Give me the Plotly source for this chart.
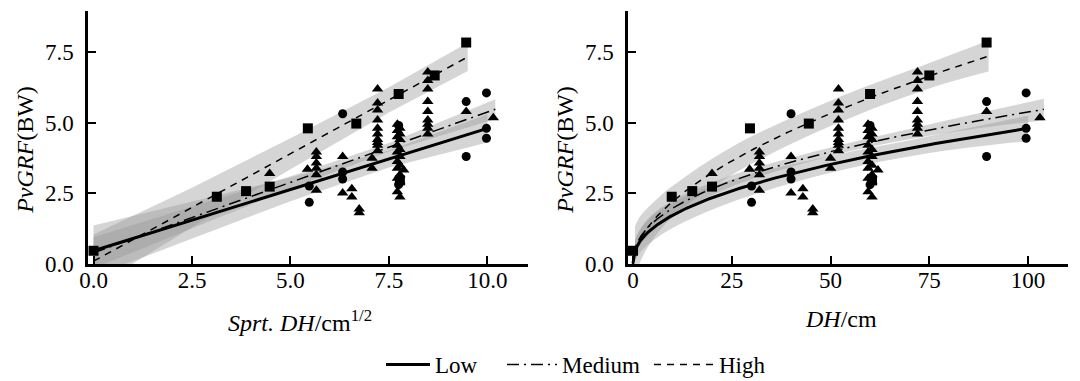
import numpy as np
import plotly.graph_objects as go

# ---------------- data (DH in cm, PvGRF in BW) ----------------
high_dh = [0, 9.8, 15, 20, 29.6, 44.5, 60, 75, 89.5, 60.5]
high_y = [0.45, 2.37, 2.57, 2.73, 4.80, 4.97, 6.02, 6.68, 7.85, 2.95]

low_dh = [30, 30, 40, 40, 40, 60, 60, 89.5, 89.5, 99.5, 99.5, 99.5]
low_y = [2.17, 2.75, 5.32, 3.25, 3.00, 4.90, 2.80, 5.75, 3.80, 6.06, 4.80, 4.45]

med_dh = [20, 29.5,
          32, 32, 32, 32, 32, 32,
          40, 40, 43, 43, 45.5, 45.5, 50, 50,
          52, 52, 52, 52, 52, 52, 52, 52, 52, 52,
          59.5, 60.5, 59.5, 60.5, 59.5, 60.5, 59.5, 60.5, 59.5,
          60.5, 59.5, 60.5, 59.5, 60.5, 59.5, 60.5, 59.5, 60.5,
          62,
          72, 72, 72, 72, 72, 72, 72, 72, 72,
          89.5, 103]
med_y = [3.20, 3.35,
         3.96, 3.80, 3.57, 3.38, 3.15, 2.60,
         3.80, 2.50, 2.65, 2.36, 1.93, 1.80, 3.74, 3.38,
         6.20, 5.70, 5.45, 5.10, 4.80, 4.60, 4.40, 4.30, 4.20, 4.00,
         4.95, 4.80, 4.72, 4.60, 4.50, 4.40, 4.20, 4.05, 3.96,
         3.80, 3.62, 3.49, 3.38, 3.15, 3.03, 2.90, 2.55, 2.36,
         3.32,
         6.80, 6.50, 6.20, 5.75, 5.40, 5.10, 4.95, 4.80, 4.60,
         5.40, 5.18]

groups = ["Low", "Medium", "High"]

# fitted models
# left panel: y = a + b * sqrt(DH)
lin_a = [0.45, 0.38, 0.08]
lin_b = [0.435, 0.50, 0.764]
lin_xmax = [10.0, 10.2, 9.5]
# right panel: y = c * DH ** p
pow_c = [0.61, 0.714, 0.62]
pow_p = [0.448, 0.4386, 0.55]
pow_xmax = [100, 104, 90]

# confidence bands (left panel, x = sqrt(DH))
bandL_x = [[0, 2.5, 5, 7.5, 10.0], [0, 2.5, 5, 7.5, 10.2], [0, 2.5, 5, 7.5, 9.5]]
bandL_lo = [[-0.45, 0.89, 2.21, 3.41, 4.30],
            [-0.17, 1.25, 2.66, 3.98, 5.13],
            [-0.87, 1.29, 3.35, 5.36, 6.84]]
bandL_hi = [[1.35, 2.19, 3.05, 4.01, 5.30],
            [0.93, 2.01, 3.10, 4.28, 5.83],
            [1.03, 2.69, 4.45, 6.26, 7.84]]
# confidence bands (right panel, x = DH)
bandR_x = [[0.5, 2, 5, 10, 25, 50, 75, 100],
           [0.5, 2, 5, 10, 25, 50, 75, 104],
           [0.5, 2, 5, 10, 25, 50, 75, 90]]
bandR_lo = [[0.10, 0.43, 0.80, 1.26, 2.18, 3.22, 3.92, 4.35],
            [0.23, 0.67, 1.15, 1.68, 2.73, 3.82, 4.54, 5.09],
            [-0.48, 0.11, 0.85, 1.65, 3.14, 4.88, 6.22, 6.82]]
bandR_hi = [[0.80, 1.23, 1.70, 2.16, 2.98, 3.82, 4.52, 5.25],
            [0.83, 1.27, 1.75, 2.24, 3.13, 4.12, 4.94, 5.85],
            [1.32, 1.71, 2.15, 2.75, 4.14, 5.78, 7.12, 7.92]]

# ---------------- styles ----------------
FONT = "Liberation Serif"
band_fill = "rgba(150,150,150,0.40)"
line_style = {
    "Low": dict(color="black", width=3, dash="solid"),
    "Medium": dict(color="black", width=1.5, dash="12px,5px,2px,5px"),
    "High": dict(color="black", width=1.5, dash="7px,6px"),
}
markers = {
    "Low": dict(symbol="circle", size=9),
    "Medium": dict(symbol="triangle-up", size=10),
    "High": dict(symbol="square", size=10),
}
legend_ids = {"Low": "legend", "Medium": "legend2", "High": "legend3"}

fig = go.Figure()

# bands
for panel in ("L", "R"):
    xa, ya = ("x", "y") if panel == "L" else ("x2", "y2")
    for i in (2, 1, 0):
        bx = bandL_x[i] if panel == "L" else bandR_x[i]
        lo = bandL_lo[i] if panel == "L" else bandR_lo[i]
        hi = bandL_hi[i] if panel == "L" else bandR_hi[i]
        shape = "linear" if panel == "L" else "spline"
        fig.add_trace(go.Scatter(x=bx, y=lo, mode="lines", line=dict(width=0, shape=shape),
                                 showlegend=False, hoverinfo="skip", xaxis=xa, yaxis=ya))
        fig.add_trace(go.Scatter(x=bx, y=hi, mode="lines", line=dict(width=0, shape=shape),
                                 fill="tonexty", fillcolor=band_fill,
                                 showlegend=False, hoverinfo="skip", xaxis=xa, yaxis=ya))

# fit lines
for i, g in enumerate(groups):
    xl = np.linspace(0, lin_xmax[i], 60)
    fig.add_trace(go.Scatter(x=xl, y=lin_a[i] + lin_b[i] * xl, mode="lines",
                             line=line_style[g], name=g, legendgroup=g,
                             legend=legend_ids[g],
                             showlegend=True, xaxis="x", yaxis="y"))
    xr = np.linspace(0, pow_xmax[i], 400)
    fig.add_trace(go.Scatter(x=xr, y=pow_c[i] * xr ** pow_p[i], mode="lines",
                             line=line_style[g], name=g, legendgroup=g,
                             showlegend=False, xaxis="x2", yaxis="y2"))

# points
pts = {"Low": (low_dh, low_y), "Medium": (med_dh, med_y), "High": (high_dh, high_y)}
for g in ("Medium", "Low", "High"):
    dh, yy = pts[g]
    fig.add_trace(go.Scatter(x=np.sqrt(dh), y=yy, mode="markers",
                             marker=dict(color="black", **markers[g]),
                             showlegend=False, xaxis="x", yaxis="y"))
    fig.add_trace(go.Scatter(x=dh, y=yy, mode="markers",
                             marker=dict(color="black", **markers[g]),
                             showlegend=False, xaxis="x2", yaxis="y2"))

TICK_FONT = dict(family=FONT, size=23, color="black")
axis_common = dict(showline=True, linecolor="black", linewidth=2.5, ticks="inside",
                   ticklen=8, tickwidth=2, tickcolor="black", showgrid=False,
                   zeroline=False, tickfont=TICK_FONT)

LEG_FONT = dict(family=FONT, size=23, color="black")


def leg(xpx, width):
    return dict(orientation="h", x=(xpx - 80) / 980, xanchor="left",
                y=-0.397, yanchor="middle", font=LEG_FONT, itemwidth=width,
                bgcolor="rgba(0,0,0,0)", borderwidth=0)


fig.update_layout(
    width=1080, height=381,
    margin=dict(l=80, r=20, t=3, b=121),
    paper_bgcolor="white", plot_bgcolor="white",
    font=dict(family=FONT, size=23, color="black"),
    xaxis=dict(domain=[0, 0.449], range=[-0.14, 11.03], tick0=0, dtick=2.5,
               tickformat=".1f", anchor="y", ticklabelstandoff=-6, **axis_common),
    yaxis=dict(domain=[0, 1], range=[-0.02, 8.97], tick0=0, dtick=2.5,
               tickformat=".1f", anchor="x", ticklabelstandoff=7, **axis_common),
    xaxis2=dict(domain=[0.551, 1], range=[-1.27, 110.1], tick0=0, dtick=25,
                tickformat="d", anchor="y2", ticklabelstandoff=-6, **axis_common),
    yaxis2=dict(domain=[0, 1], range=[-0.02, 8.97], tick0=0, dtick=2.5,
                tickformat=".1f", anchor="x2", ticklabelstandoff=7, **axis_common),
    legend=leg(373, 44),
    legend2=leg(494, 50),
    legend3=leg(641, 60),
    showlegend=True,
)

ann_font = dict(family=FONT, size=24, color="black")
common_ann = dict(xref="paper", yref="paper", showarrow=False, font=ann_font,
                  xanchor="center", yanchor="middle")
fig.add_annotation(text="<i>PvGRF</i>(BW)", x=(17 - 80) / 980, y=(260 - 144) / 257,
                   textangle=-90, **common_ann)
fig.add_annotation(text="<i>PvGRF</i>(BW)", x=(557 - 80) / 980, y=(260 - 144) / 257,
                   textangle=-90, **common_ann)
fig.add_annotation(text="<i>Sprt. DH</i>/cm<sup>1/2</sup>", x=(292 - 80) / 980,
                   y=(260 - 318) / 257, **common_ann)
fig.add_annotation(text="<i>DH</i>/cm", x=(833 - 80) / 980,
                   y=(260 - 316) / 257, **common_ann)

fig.write_html("out.html")
